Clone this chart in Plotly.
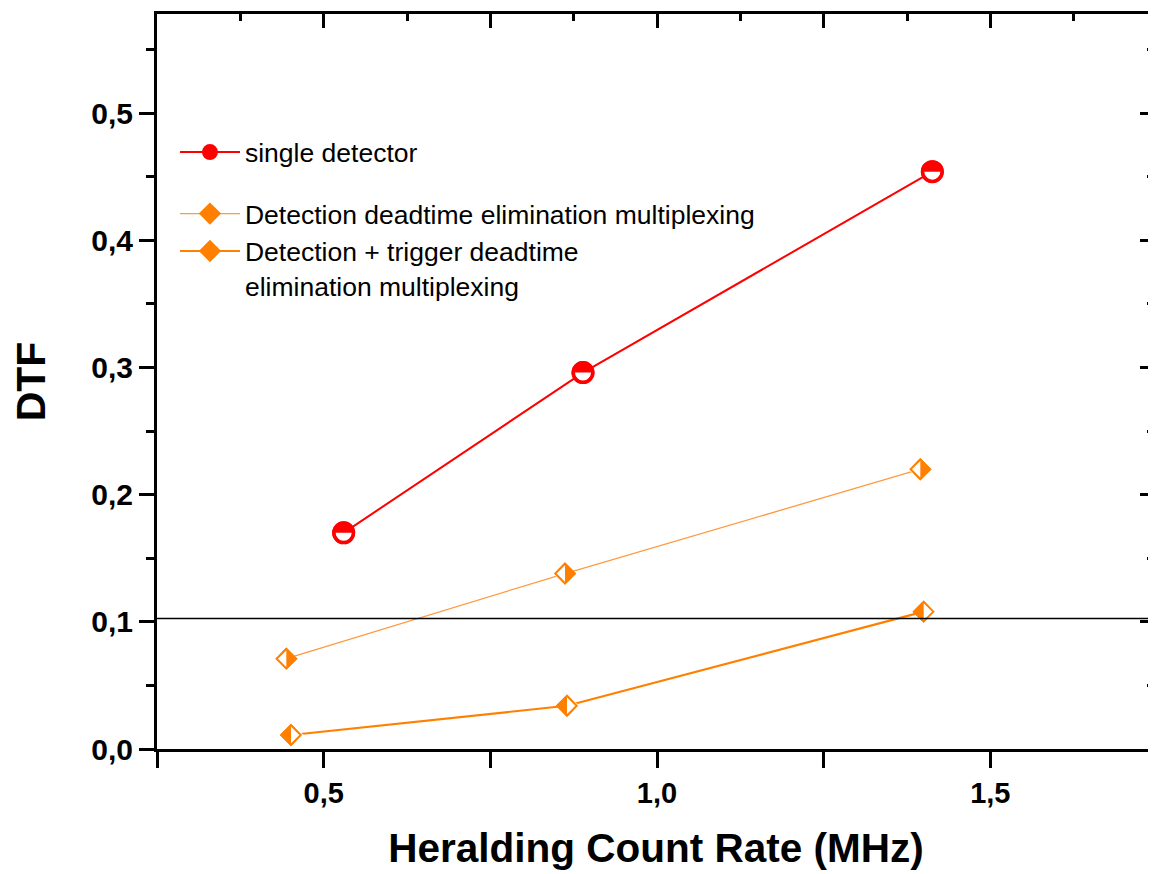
import plotly.graph_objects as go

# ---- data ----
series_names = ["single detector",
                "Detection deadtime elimination multiplexing",
                "Detection + trigger deadtime<br>elimination multiplexing"]
x_single = [0.530, 0.889, 1.413]
y_single = [0.170, 0.296, 0.454]
x_det = [0.444, 0.862, 1.395]
y_det = [0.071, 0.138, 0.220]
x_trig = [0.451, 0.865, 1.400]
y_trig = [0.011, 0.034, 0.108]
threshold = 0.1026
x_tickvals = [0.25, 0.5, 0.75, 1.0, 1.25, 1.5, 1.75]
x_ticktext = ["", "0,5", "", "1,0", "", "1,5", ""]

RED = "#FF0000"
ORANGE = "#FF8000"
ORANGE_LIGHT = "#FF9A40"
FONT = "Liberation Sans, Arial, sans-serif"

fig = go.Figure()

# ---- single detector: red disc, lower half masked white, ring redrawn ----
fig.add_trace(go.Scatter(
    x=x_single, y=y_single, mode="lines+markers", name=series_names[0],
    legendgroup="g1",
    line=dict(color=RED, width=2),
    marker=dict(symbol="circle", size=23, color=RED, line=dict(width=0)),
))
fig.add_trace(go.Scatter(
    x=x_single, y=y_single, mode="markers", showlegend=False,
    hoverinfo="skip",
    marker=dict(symbol="triangle-down", size=17.5, angle=0, standoff=4.4,
                color="white", line=dict(width=0)),
))
fig.add_trace(go.Scatter(
    x=x_single, y=y_single, mode="markers", showlegend=False,
    hoverinfo="skip",
    marker=dict(symbol="circle-open", size=19.5, color=RED,
                line=dict(color=RED, width=3.5)),
))


def half_diamond(xs, ys, name, line_w, line_col, mask_angle):
    # filled diamond (also the legend sample)
    fig.add_trace(go.Scatter(
        x=xs, y=ys, mode="lines+markers", name=name, legendgroup="g2",
        line=dict(color=line_col, width=line_w),
        marker=dict(symbol="diamond", size=15, color=ORANGE,
                    line=dict(color=ORANGE, width=2)),
    ))
    # white mask over one half (triangle shifted so its base is on the centre)
    fig.add_trace(go.Scatter(
        x=xs, y=ys, mode="markers", showlegend=False, hoverinfo="skip",
        marker=dict(symbol="triangle-down", size=17, angle=mask_angle,
                    standoff=4.25, color="white", line=dict(width=0)),
    ))
    # outline redrawn on top
    fig.add_trace(go.Scatter(
        x=xs, y=ys, mode="markers", showlegend=False, hoverinfo="skip",
        marker=dict(symbol="diamond-open", size=15, color=ORANGE,
                    line=dict(color=ORANGE, width=2)),
    ))


# detection deadtime: right half filled (left half white)
half_diamond(x_det, y_det, series_names[1], 1.3, ORANGE_LIGHT, 90)
# detection + trigger: left half filled (right half white)
half_diamond(x_trig, y_trig, series_names[2], 2.2, ORANGE, 270)

# invisible carrier so the mirrored top / right axes get drawn
fig.add_trace(go.Scatter(
    x=x_single, y=y_single, xaxis="x2", yaxis="y2", mode="markers",
    marker=dict(opacity=0), showlegend=False, hoverinfo="skip",
))

fig.add_hline(y=threshold, line=dict(color="black", width=1.6), layer="above")

fig.update_layout(
    width=1156, height=874,
    margin=dict(l=149, r=9, t=6, b=133),
    paper_bgcolor="white", plot_bgcolor="white",
    separators=",.",
    showlegend=True,
    legend=dict(
        x=0.018, y=0.8444, xanchor="left", yanchor="top",
        bgcolor="rgba(0,0,0,0)", borderwidth=0,
        font=dict(family=FONT, size=26.5, color="black"),
        traceorder="grouped", tracegroupgap=24, valign="top",
        itemwidth=60,
    ),
    xaxis=dict(
        range=[0.25, 1.747], tickvals=x_tickvals, ticktext=x_ticktext,
        ticks="outside", ticklen=16, tickwidth=3, tickcolor="black",
        showline=True, linewidth=3, linecolor="black",
        showgrid=False, zeroline=False, automargin=False,
        tickfont=dict(family=FONT, size=29, color="black", weight="bold"),
        title=dict(text="Heralding Count Rate (MHz)", standoff=26,
                   font=dict(family=FONT, size=40.5, color="black",
                             weight="bold")),
    ),
    yaxis=dict(
        range=[0, 0.578], tick0=0, dtick=0.1, tickformat=".1f",
        ticks="outside", ticklen=15, tickwidth=3, tickcolor="black",
        minor=dict(dtick=0.05, tick0=0, ticks="outside", ticklen=8,
                   tickwidth=3, tickcolor="black"),
        showline=True, linewidth=3, linecolor="black",
        showgrid=False, zeroline=False, automargin=False,
        tickfont=dict(family=FONT, size=30, color="black", weight="bold"),
        title=dict(text="DTF", standoff=41,
                   font=dict(family=FONT, size=41, color="black",
                             weight="bold")),
    ),
    xaxis2=dict(
        overlaying="x", side="top", anchor="y", range=[0.25, 1.747],
        tick0=0.25, dtick=0.25, ticks="inside", ticklen=14, tickwidth=3,
        tickcolor="black",
        minor=dict(dtick=0.125, tick0=0.25, ticks="inside", ticklen=7,
                   tickwidth=3, tickcolor="black"),
        showticklabels=False, showline=True, linewidth=3, linecolor="black",
        showgrid=False, zeroline=False, automargin=False,
    ),
    yaxis2=dict(
        overlaying="y", side="right", anchor="x", range=[0, 0.578],
        tick0=0, dtick=0.1, ticks="inside", ticklen=15, tickwidth=3,
        tickcolor="black",
        minor=dict(dtick=0.05, tick0=0, ticks="inside", ticklen=8,
                   tickwidth=3, tickcolor="black"),
        showticklabels=False, showline=True, linewidth=3, linecolor="black",
        showgrid=False, zeroline=False, automargin=False,
    ),
)

fig.write_html("out.html")
